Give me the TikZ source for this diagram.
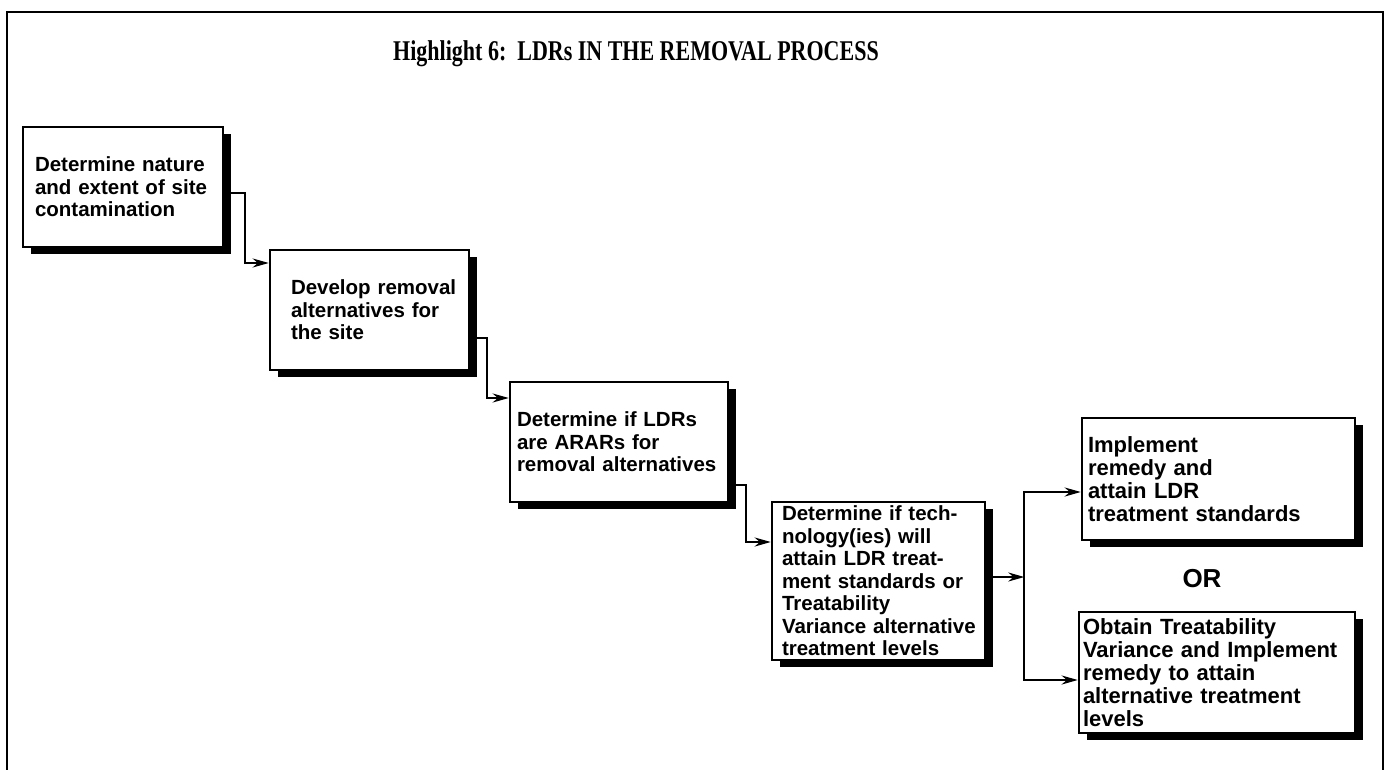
\documentclass[tikz,border=0pt]{standalone}
\usepackage{fontspec}
\usepackage{graphicx}
\setmainfont{Liberation Serif}
\setsansfont{Liberation Sans}
\usetikzlibrary{arrows.meta, shadows}
\hyphenpenalty=10000

\begin{document}
\begin{tikzpicture}[x=1pt, y=-1pt]
        % Define styles
        \tikzset{
            stepbox/.style={draw, line width=2.6pt, fill=white, align=left, inner ysep=2pt,
                drop shadow={shadow xshift=8pt, shadow yshift=-7pt, opacity=1, fill=black},
                font=\sffamily\bfseries\fontsize{20.5}{22.5}\selectfont},
            bigbox/.style={stepbox, font=\sffamily\bfseries\fontsize{22}{23}\selectfont},
            flow/.style={-{Stealth[length=16pt, width=9pt]}, line width=2.2pt},
            heading/.style={font=\bfseries\fontsize{22}{26}\selectfont}
        }
        \useasboundingbox (0,0) rectangle (1387,770);
        % Outer frame (open at the bottom)
        \draw[line width=2.4pt] (7,770) |- (1383,12) -- (1383,770);
        % Title
        \node[heading, anchor=base] (head) at (636,61) {\scalebox{1}[1.3]{Highlight 6:\ \ LDRs IN THE REMOVAL PROCESS}};
        % The steps of the removal process
        \node[stepbox, minimum width=200pt, minimum height=120pt, text width=176pt, inner xsep=12pt] (b1) at (123,187)
            {Determine nature\\and extent of site\\contamination};
        \node[stepbox, minimum width=199pt, minimum height=120pt, text width=177pt, inner xsep=11pt] (b2) at (369.5,310)
            {\hspace*{10pt}Develop removal\\\hspace*{10pt}alternatives for\\\hspace*{10pt}the site};
        \node[stepbox, minimum width=218pt, minimum height=120pt, text width=204pt, inner xsep=7pt] (b3) at (619,442)
            {Determine if LDRs\\are ARARs for\\removal alternatives};
        \node[stepbox, minimum width=213pt, minimum height=158pt, text width=201pt, inner xsep=6pt] (b4) at (878.5,581)
            {\hspace*{4pt}Determine if tech-\\\hspace*{4pt}nology(ies) will\\\hspace*{4pt}attain LDR treat-\\\hspace*{4pt}ment standards or\\\hspace*{4pt}Treatability\\\hspace*{4pt}Variance alternative\\\hspace*{4pt}treatment levels};
        % The two outcomes
        \node[bigbox, minimum width=273pt, minimum height=122pt, text width=261pt, inner xsep=6pt] (b5) at (1218.5,479)
            {Implement\\remedy and\\attain LDR\\treatment standards};
        \node[font=\sffamily\bfseries\fontsize{26}{26}\selectfont, anchor=base] (or) at (1202,587) {OR};
        \node[bigbox, minimum width=276pt, minimum height=121pt, text width=268pt, inner xsep=4pt] (b6) at (1217,672.5)
            {Obtain Treatability\\Variance and Implement\\remedy to attain\\alternative treatment\\levels};
        % Stepped connectors
        \draw[flow] ([yshift=-6pt]b1.east) -| ([xshift=-24pt, yshift=47pt]b2.west) -- ([yshift=47pt]b2.west);
        \draw[flow] ([yshift=-28pt]b2.east) -| ([xshift=-22pt, yshift=44pt]b3.west) -- ([yshift=44pt]b3.west);
        \draw[flow] ([yshift=-43pt]b3.east) -| ([xshift=-25pt, yshift=39pt]b4.west) -- ([yshift=39pt]b4.west);
        % Split into the two outcomes
        \coordinate (split) at ([xshift=38pt, yshift=4pt]b4.east);
        \draw[flow] ([yshift=4pt]b4.east) -- (split);
        \draw[flow] (split) |- ([yshift=-13pt]b5.west);
        \draw[flow] (split) |- ([yshift=-7.5pt]b6.west);
    \end{tikzpicture}
\end{document}
